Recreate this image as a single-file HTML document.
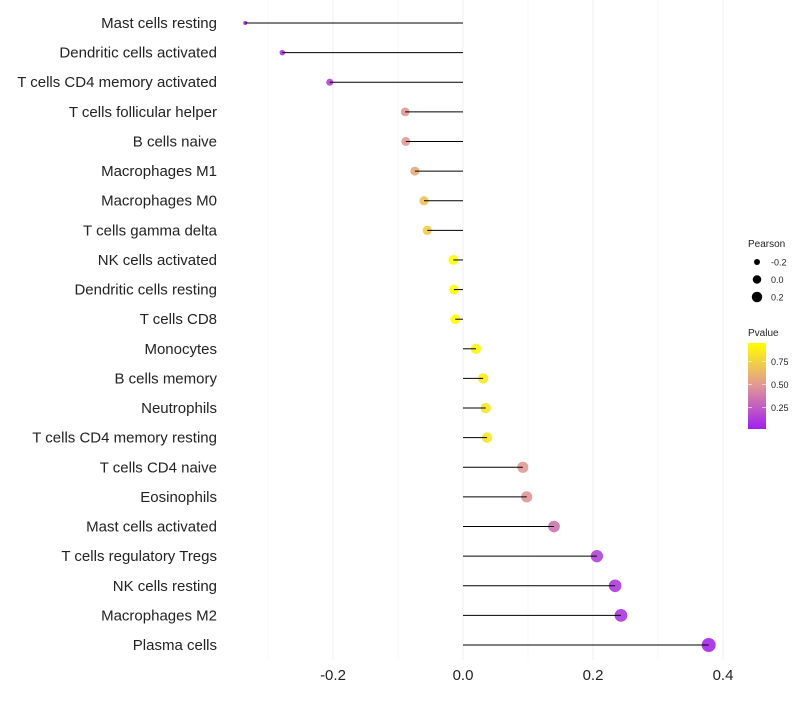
<!DOCTYPE html>
<html><head><meta charset="utf-8"><style>
body{margin:0;background:#fff;font-family:"Liberation Sans",sans-serif}
svg text{font-family:"Liberation Sans",sans-serif}
</style></head><body>
<svg id="chart" width="800" height="700" xmlns="http://www.w3.org/2000/svg"></svg>
<script>
const categories=["Mast cells resting","Dendritic cells activated","T cells CD4 memory activated","T cells follicular helper","B cells naive","Macrophages M1","Macrophages M0","T cells gamma delta","NK cells activated","Dendritic cells resting","T cells CD8","Monocytes","B cells memory","Neutrophils","T cells CD4 memory resting","T cells CD4 naive","Eosinophils","Mast cells activated","T cells regulatory  Tregs","NK cells resting","Macrophages M2","Plasma cells"];
const pearson=[-0.335,-0.278,-0.205,-0.089,-0.088,-0.074,-0.060,-0.055,-0.015,-0.014,-0.012,0.020,0.031,0.035,0.037,0.092,0.098,0.140,0.206,0.234,0.243,0.378];
const pvalue=[0.05,0.12,0.16,0.50,0.50,0.58,0.68,0.72,0.94,0.94,0.95,0.90,0.86,0.84,0.83,0.50,0.48,0.35,0.16,0.12,0.10,0.05];
const xTicks=[-0.2,0.0,0.2,0.4];
const xMinor=[-0.3,-0.1,0.1,0.3];
const legendPearson=[-0.2,0.0,0.2];
const legendP=[0.25,0.50,0.75];

const svg=document.getElementById('chart');
const NS='http://www.w3.org/2000/svg';
function mk(t,a,p){const e=document.createElementNS(NS,t);for(const k in a)e.setAttribute(k,a[k]);(p||svg).appendChild(e);return e;}
const xs=v=>463+v*650;
const ys=i=>23+i*(622/21);
const rs=v=>Math.sqrt(Math.max(2,25.1+63.1*v));
function col(p){
  const stops=[[0,[160,32,240]],[0.5,[224,150,150]],[1,[255,255,0]]];
  const t=Math.max(0,Math.min(1,(p-0.02)/0.93));
  let a=stops[0],b=stops[1];if(t>0.5){a=stops[1];b=stops[2];}
  const u=(t-a[0])/(b[0]-a[0]);
  return 'rgb('+a[1].map((c,i)=>Math.round(c+(b[1][i]-c)*u)).join(',')+')';
}
xMinor.forEach(v=>{const l=mk('line',{x1:xs(v),x2:xs(v),y1:0,y2:660,stroke:'#f7f7f7','stroke-width':0.6});
});
xTicks.forEach(v=>{const l=mk('line',{x1:xs(v),x2:xs(v),y1:0,y2:660,stroke:'#efefef','stroke-width':1});

const t=mk('text',{x:xs(v),y:680,'text-anchor':'middle','font-size':15,fill:'#222'});t.textContent=v.toFixed(1);
});
categories.forEach((c,i)=>{
  const y=ys(i);
  const t=mk('text',{x:217,y:y+5,'text-anchor':'end','font-size':15,fill:'#222'});t.textContent=c;
  
  const d=mk('circle',{cx:xs(pearson[i]),cy:y,r:rs(pearson[i]),fill:col(pvalue[i]),'fill-opacity':0.9});
  
  const l=mk('line',{x1:xs(0),x2:xs(pearson[i]),y1:y,y2:y,stroke:'#000','stroke-width':1});
  
});
// legends
let t=mk('text',{x:748,y:247,'font-size':10,fill:'#222'});t.textContent='Pearson';

legendPearson.forEach((v,i)=>{const y=262+i*17.5;
 const c=mk('circle',{cx:757,cy:y,r:rs(v)*0.85,fill:'#000'});
 const tt=mk('text',{x:771,y:y+3.5,'font-size':9,fill:'#222'});tt.textContent=v.toFixed(1);
 });
t=mk('text',{x:748,y:336,'font-size':10,fill:'#222'});t.textContent='Pvalue';

const defs=mk('defs',{});const g=mk('linearGradient',{id:'pg',x1:0,y1:1,x2:0,y2:0},defs);
[0,0.25,0.5,0.75,1].forEach(o=>mk('stop',{offset:o,'stop-color':col(0.02+o*0.93)},g));
const bar=mk('rect',{x:748,y:343,width:18,height:86,fill:'url(#pg)'});

legendP.forEach(v=>{const y=343+(0.95-v)/0.93*86;
 mk('line',{x1:748,x2:752,y1:y,y2:y,stroke:'#fff','stroke-width':0.6});mk('line',{x1:762,x2:766,y1:y,y2:y,stroke:'#fff','stroke-width':0.6});
 const tt=mk('text',{x:771,y:y+3.5,'font-size':9,fill:'#222'});tt.textContent=v.toFixed(2);
 });
</script>
</body></html>
